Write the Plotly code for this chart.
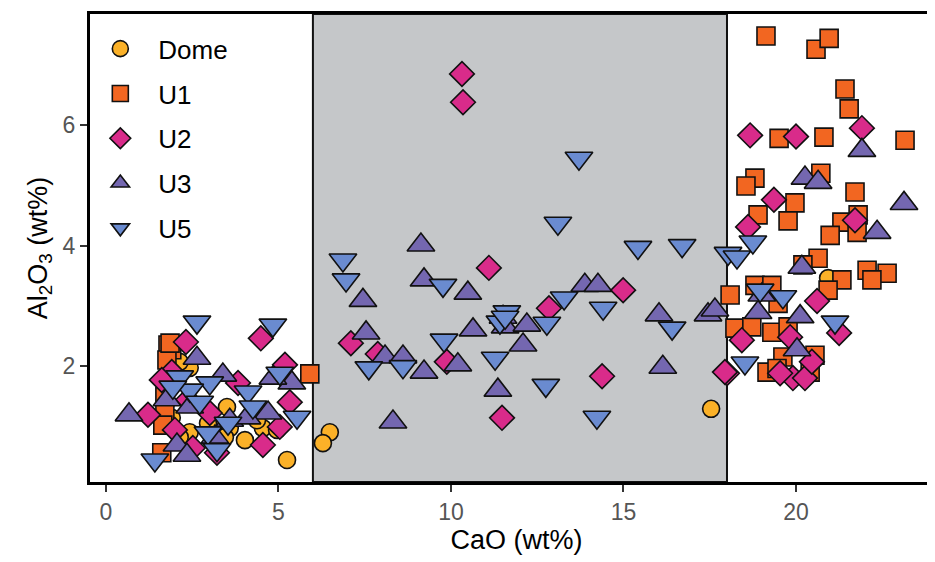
import plotly.graph_objects as go

# ---- data (CaO wt%, Al2O3 wt%) ----
dome_x = [6.49, 6.29, 5.25, 17.54, 20.93, 3.51, 3.59, 2.96, 2.43, 4.55, 4.96, 4.38, 3.45, 2.14, 2.43, 2.14, 4.03, 1.91]
dome_y = [0.90, 0.72, 0.44, 1.29, 3.46, 1.32, 0.97, 1.05, 0.90, 0.97, 0.94, 1.10, 0.82, 0.82, 1.97, 2.07, 0.77, 1.14]

u1_x = [19.13, 20.58, 20.96, 21.42, 21.54, 19.51, 20.81, 23.16, 18.81, 18.55, 20.72, 21.71, 19.97, 18.90, 19.77,
        21.33, 21.80, 20.99, 21.77, 20.64, 20.20, 22.06, 22.64, 22.20, 21.33, 20.93, 18.09, 18.81, 19.30, 19.48,
        18.23, 18.72, 19.30, 19.77, 19.62, 20.55, 19.16, 19.45, 20.41,
        5.91, 1.80, 1.91, 1.77, 1.71, 1.71, 1.65, 1.62, 1.86]
u1_y = [7.48, 7.26, 7.44, 6.60, 6.27, 5.78, 5.80, 5.75, 5.12, 4.99, 5.20, 4.89, 4.71, 4.51, 4.41,
        4.39, 4.51, 4.17, 4.22, 3.79, 3.68, 3.59, 3.54, 3.43, 3.43, 3.26, 3.18, 3.34, 3.34, 3.04,
        2.63, 2.65, 2.56, 2.65, 2.15, 2.18, 1.90, 1.96, 1.90,
        1.87, 2.35, 2.27, 2.10, 1.49, 1.22, 1.02, 0.56, 2.38]

u2_x = [10.32, 10.35, 11.10, 7.10, 7.88, 9.88, 11.48, 14.99, 12.84, 14.38, 18.00,
        18.67, 20.00, 21.91, 19.36, 18.61, 21.71, 20.61, 19.83, 21.25, 18.43, 17.94, 19.91, 20.26, 19.54, 20.46,
        2.32, 4.49, 5.19, 1.91, 1.62, 3.83, 2.38, 5.33, 1.22, 3.01, 5.04, 2.00, 4.55, 2.52, 3.22]
u2_y = [6.85, 6.38, 3.63, 2.38, 2.20, 2.07, 1.14, 3.26, 2.96, 1.83, 1.88,
        5.83, 5.81, 5.95, 4.76, 4.31, 4.42, 3.08, 2.48, 2.55, 2.43, 1.90, 1.80, 1.80, 1.88, 2.07,
        2.40, 2.46, 2.02, 1.90, 1.77, 1.72, 1.44, 1.40, 1.19, 1.22, 0.99, 0.94, 0.69, 0.64, 0.56]

u3_x = [9.13, 9.22, 10.49, 7.45, 7.54, 10.64, 8.09, 8.61, 9.22, 10.20, 11.36, 8.32, 11.51, 11.57,
        13.88, 14.26, 12.20, 12.09, 16.03, 16.14, 17.45, 17.65,
        21.91, 20.26, 20.64, 23.13, 22.35, 20.17, 18.90, 19.01, 20.12, 20.03,
        0.67, 2.64, 3.39, 5.39, 4.70, 4.84, 2.43, 2.06, 3.59, 2.35, 3.16, 1.77, 4.09]
u3_y = [4.01, 3.43, 3.21, 3.09, 2.55, 2.60, 2.15, 2.15, 1.90, 2.02, 1.60, 1.07, 2.81, 2.65,
        3.34, 3.34, 2.68, 2.35, 2.85, 1.98, 2.85, 2.93,
        5.58, 5.12, 5.05, 4.70, 4.22, 3.64, 2.89, 3.18, 2.82, 2.27,
        1.19, 2.13, 1.85, 1.72, 1.22, 1.80, 1.32, 0.69, 1.10, 0.52, 0.82, 1.44, 1.14]

u5_x = [6.87, 6.96, 9.77, 7.62, 8.61, 9.80, 11.28, 11.42, 11.62,
        13.71, 13.10, 15.42, 16.70, 13.28, 14.41, 12.78, 16.41, 12.75, 14.23, 11.57, 18.03,
        18.29, 18.75, 18.96, 19.62, 21.13, 18.52,
        2.64, 4.84, 3.01, 4.12, 5.04, 5.54, 4.26, 2.96, 1.42, 2.14, 2.43, 2.72, 1.94, 3.54, 3.22]
u5_y = [3.76, 3.43, 3.34, 1.97, 1.99, 2.43, 2.13, 2.73, 2.90,
        5.45, 4.37, 3.97, 4.00, 3.13, 2.96, 2.71, 2.63, 1.68, 1.15, 2.81, 3.87,
        3.81, 4.06, 3.26, 3.15, 2.73, 2.05,
        2.73, 2.68, 1.72, 1.57, 1.88, 1.15, 1.32, 0.89, 0.44, 1.82, 1.60, 1.40, 1.65, 1.05, 0.61]

x_ticks = [0, 5, 10, 15, 20]
y_ticks = [2, 4, 6]
band = [6, 18]

series = [
    ("Dome", dome_x, dome_y, "circle", "#FBB128", 17),
    ("U1", u1_x, u1_y, "square", "#F26621", 18),
    ("U2", u2_x, u2_y, "diamond", "#D92B8A", 19),
    ("U3", u3_x, u3_y, "triangle-up", "#7467B0", 24),
    ("U5", u5_x, u5_y, "triangle-down", "#6A8BD0", 24),
]

fig = go.Figure()
for i, (name, xs, ys, sym, col, sz) in enumerate(series):
    fig.add_trace(go.Scatter(
        x=xs, y=ys, mode="markers", name=name, legendgroup=name,
        marker=dict(symbol=sym, color=col, size=sz,
                    line=dict(color="#111111", width=1.6)),
    ))

fig.add_shape(type="rect", xref="x", yref="paper", x0=band[0], x1=band[1], y0=0, y1=1,
              fillcolor="#C5C7C9", line=dict(color="#111111", width=2), layer="below")

font_family = "Liberation Sans, Arial, Helvetica, sans-serif"
fig.update_layout(
    width=935, height=562,
    margin=dict(l=82, r=0, t=6, b=88, autoexpand=False),
    paper_bgcolor="white", plot_bgcolor="white",
    font=dict(family=font_family, color="black"),
    showlegend=True,
    legend=dict(x=-0.009, y=0.976, xanchor="left", yanchor="top",
                bgcolor="rgba(0,0,0,0)", font=dict(size=26, color="black"),
                tracegroupgap=8, itemsizing="trace", itemwidth=66),
    xaxis=dict(range=[-0.46, 24.26], tickvals=x_ticks, showgrid=False, zeroline=False,
               showline=True, mirror=True, linecolor="black", linewidth=3,
               ticks="outside", ticklen=7, tickwidth=2, tickcolor="#333333",
               tickfont=dict(size=23, color="#555555"),
               title=dict(text="CaO (wt%)", font=dict(size=27, color="black"), standoff=6)),
    yaxis=dict(range=[0.075, 7.845], tickvals=y_ticks, showgrid=False, zeroline=False,
               showline=True, mirror=False, linecolor="black", linewidth=3,
               ticks="outside", ticklen=7, tickwidth=2, tickcolor="#333333",
               tickfont=dict(size=23, color="#555555"),
               title=dict(text="Al<sub>2</sub>O<sub>3</sub> (wt%)", font=dict(size=27, color="black"), standoff=8)),
)

fig.write_html("out.html")
